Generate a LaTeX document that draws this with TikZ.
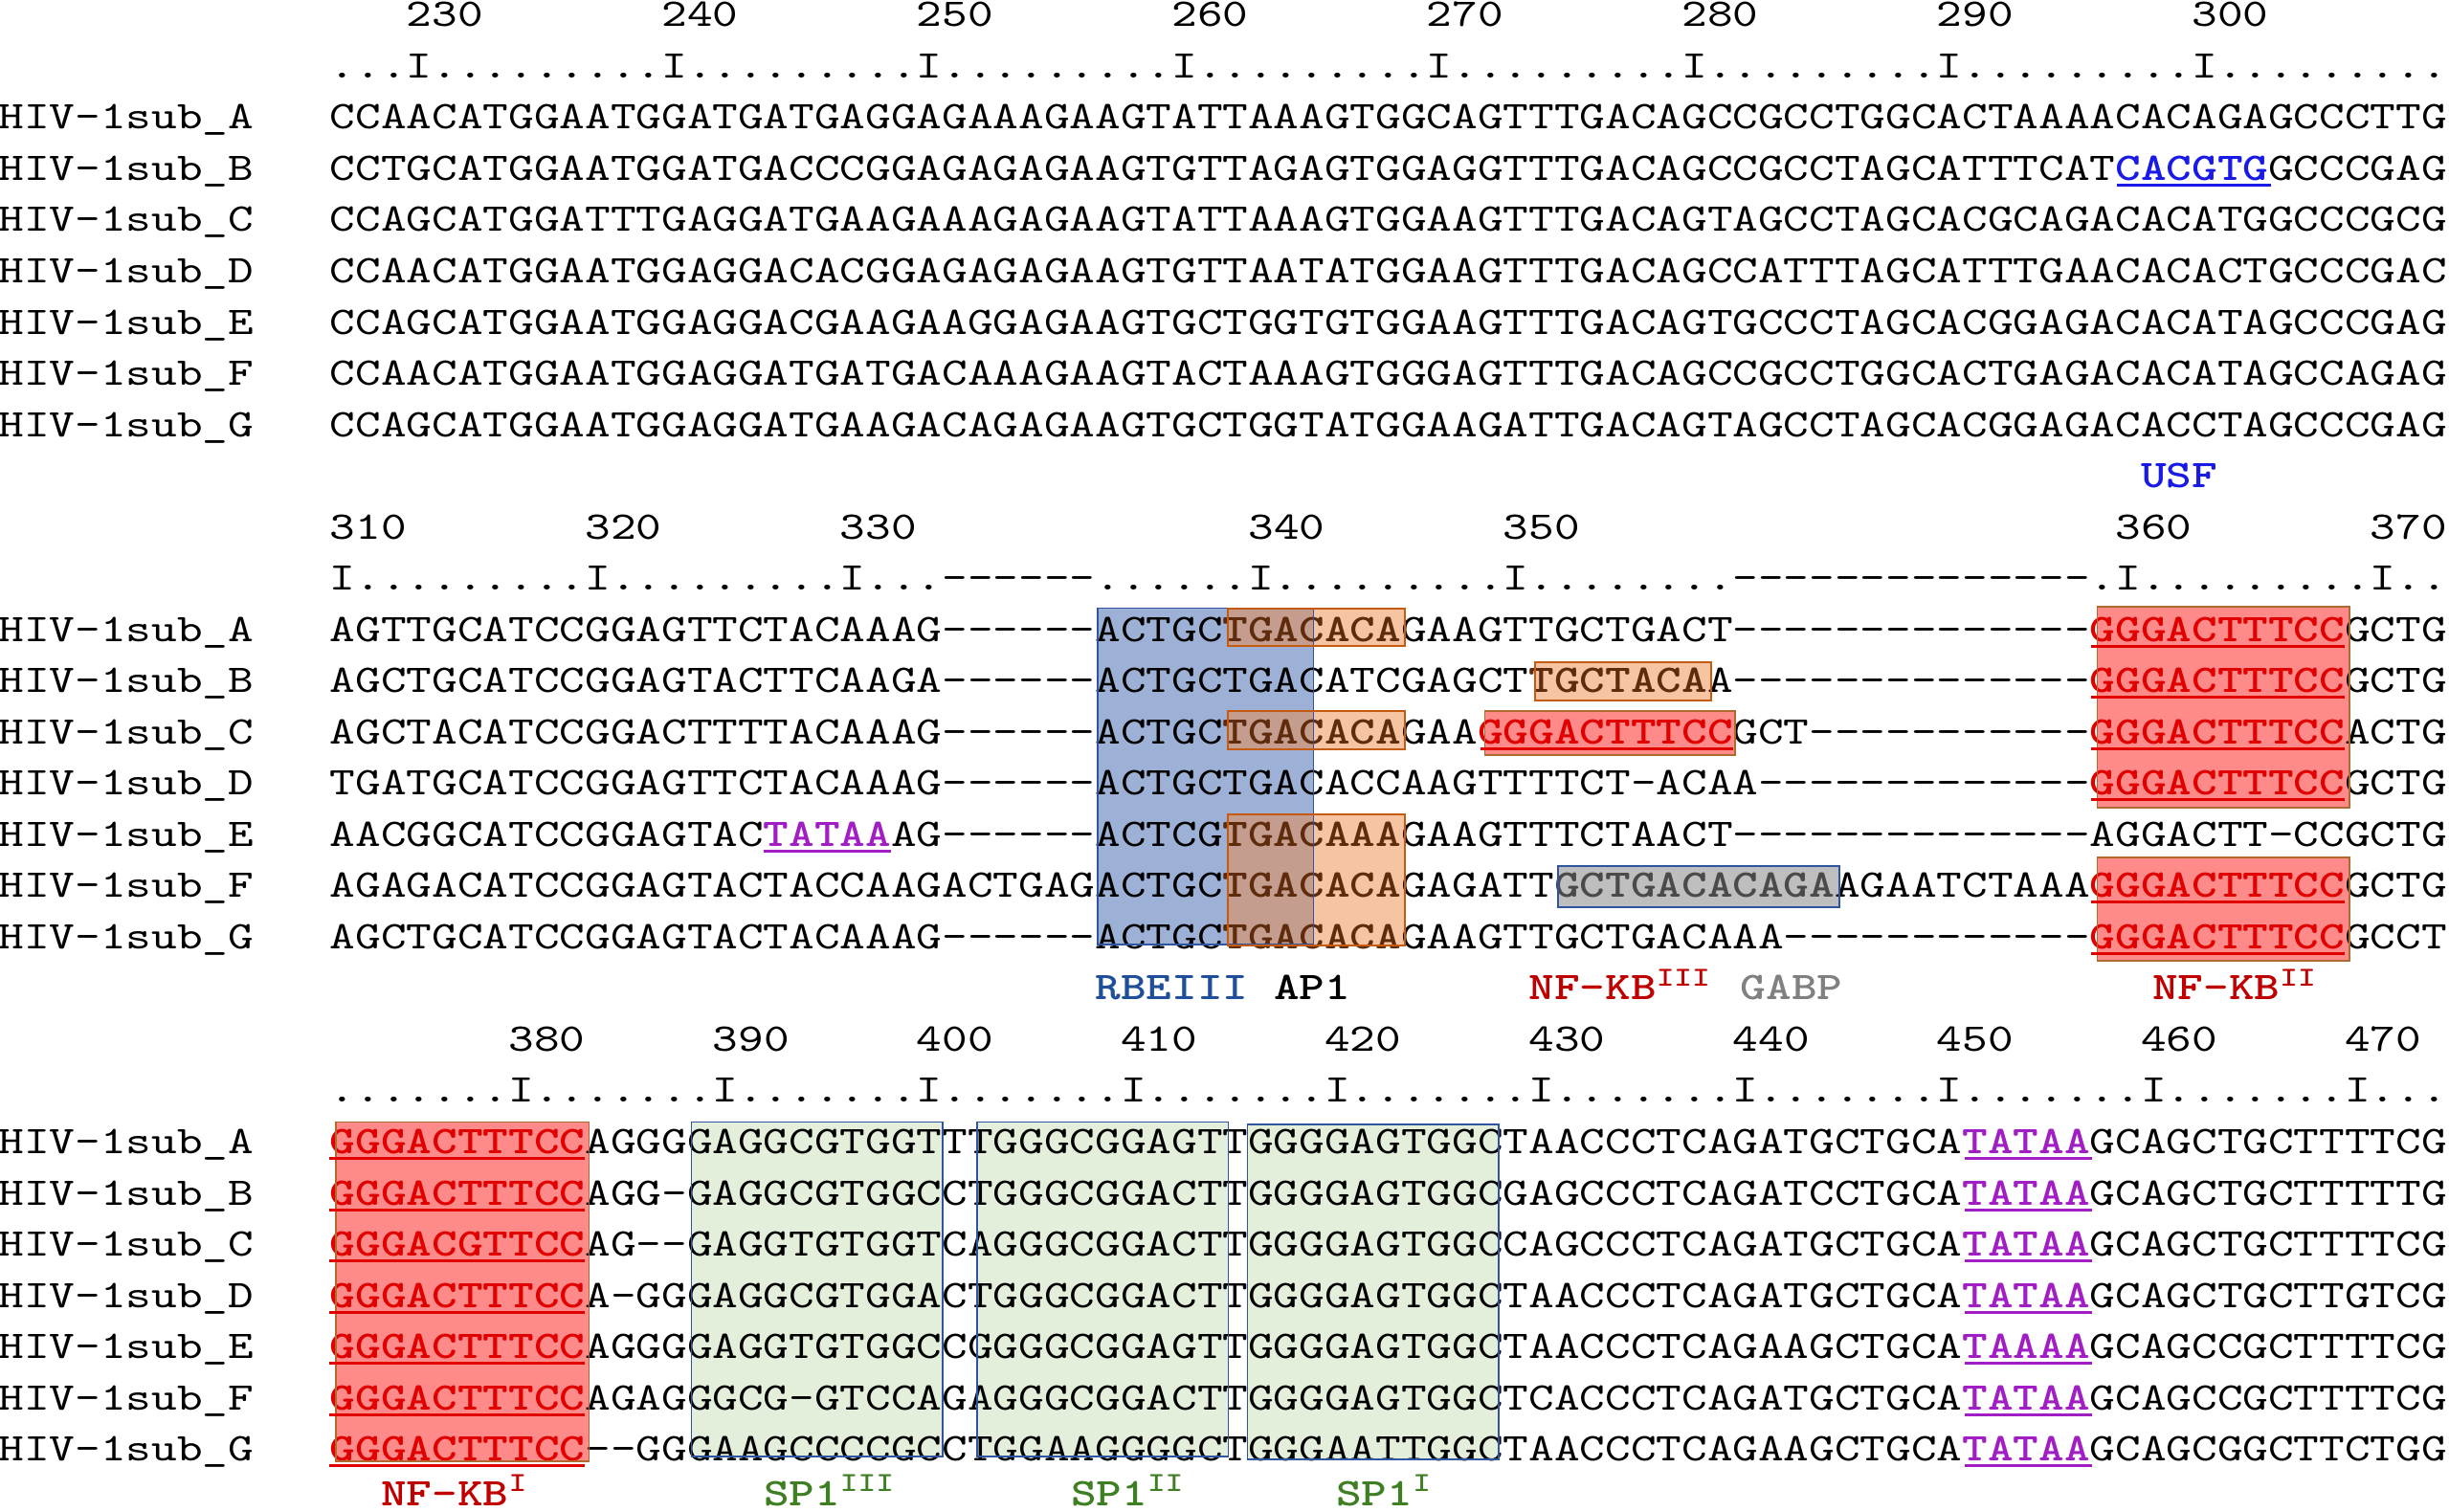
\documentclass[tikz,border=0pt]{standalone}
\usepackage{fontspec}
\setmonofont{lmmono10-regular}[Extension=.otf,BoldFont=lmmonolt10-bold,FakeStretch=1.24]
\definecolor{cUSF}{HTML}{1A1AE6}
\definecolor{cTATA}{HTML}{A11DC4}
\definecolor{cNF}{HTML}{E00000}
\definecolor{cNFlab}{HTML}{C00000}
\definecolor{cRBE}{HTML}{1F4E9A}
\definecolor{cSP}{HTML}{3F7F24}
\definecolor{cGABPlab}{HTML}{808080}
\definecolor{cGABPtxt}{HTML}{4A4A4A}
\definecolor{cAPtxt}{HTML}{5E2C0C}
\definecolor{fBlue}{HTML}{9DB1D6}
\definecolor{fOrange}{HTML}{EE8A48}
\definecolor{fRed}{HTML}{FF8A8A}
\definecolor{fGray}{HTML}{BEBEBE}
\definecolor{fGreen}{HTML}{E3EFDA}
\definecolor{bBlue}{HTML}{2F55A0}
\definecolor{bOrange}{HTML}{C55A11}
\definecolor{bRed}{HTML}{B06A30}
\newcommand\sqfont{\ttfamily\fontsize{10.234pt}{12pt}\selectfont}
\newcommand\SqNF[1]{{\bfseries\color{cNF}#1}}
\newcommand\SqTA[1]{{\bfseries\color{cTATA}#1}}
\newcommand\SqAP[1]{{\bfseries\color{cAPtxt}#1}}
\newcommand\SqGA[1]{{\bfseries\color{cGABPtxt}#1}}
\newcommand\SqUS[1]{{\bfseries\color{cUSF}#1}}
\tikzset{
  sq/.style={anchor=base west, inner sep=0pt, outer sep=0pt, font=\sqfont},
  sqlab/.style={sq, font=\sqfont\bfseries},
  fillblue/.style={fill=fBlue},
  fillorange/.style={fill=fOrange, fill opacity=0.5},
  fillred/.style={fill=fRed},
  fillgray/.style={fill=fGray},
  fillgreen/.style={fill=fGreen},
  edgeblue/.style={draw=bBlue, line width=0.4pt},
  edgeorange/.style={draw=bOrange, line width=0.5pt},
  edgered/.style={draw=bRed, line width=0.45pt},
  ulred/.style={draw=cNF, line width=0.75pt},
  ulpurple/.style={draw=cTATA, line width=0.75pt},
  ulblue/.style={draw=cUSF, line width=0.75pt}
}
\begin{document}
\begin{tikzpicture}[x=6.6625pt, y=-0.25pt]
\useasboundingbox (0.0563,0) rectangle (96.0788,1579);
\fill[white] (0.0563,0) rectangle (96.0788,1579);

% ---------- box fills (behind text) ----------
\fill[fillblue] (43.1,635.5) rectangle (51.55,987);
\fill[fillorange] (48.2,636) rectangle (55.15,675);
\fill[fillorange] (48.2,743) rectangle (55.15,782.5);
\fill[fillorange] (48.2,850.5) rectangle (55.15,988);
\fill[fillorange] (60.23,692) rectangle (67.14,732);
\fill[fillred] (58.27,743) rectangle (68.1,789);
\fill[fillgray] (61.14,905) rectangle (72.18,948);
\fill[fillred] (82.29,634) rectangle (92.18,844);
\fill[fillred] (82.29,896) rectangle (92.18,1004);
\fill[fillred] (13.24,1172.5) rectangle (23.15,1527);
\fill[fillgreen] (27.16,1172.5) rectangle (37.01,1522);
\fill[fillgreen] (38.37,1172.5) rectangle (48.21,1522);
\fill[fillgreen] (48.97,1175) rectangle (58.81,1525);

% ---------- row names ----------
\foreach \L [count=\i from 0] in {A,B,C,D,E,F,G} {
  \node[sq] (r1\L) at (0,{134.86+53.53*\i}) {HIV-1sub\_\L};
  \node[sq] (r2\L) at (0,{670.16+53.53*\i}) {HIV-1sub\_\L};
  \node[sq] (r3\L) at (0,{1205.46+53.53*\i}) {HIV-1sub\_\L};
}

% ---------- block 1 ----------
\foreach \n in {230,240,...,300} \node[sq] (n\n) at ({\n-214},27.8) {\n};
\node[sq] (ruler1) at (13,81.33) {...I.........I.........I.........I.........I.........I.........I.........I.........};
\node[sq] (s1A) at (13,134.86) {CCAACATGGAATGGATGATGAGGAGAAAGAAGTATTAAAGTGGCAGTTTGACAGCCGCCTGGCACTAAAACACAGAGCCCTTG};
\node[sq] (s1B) at (13,188.39) {CCTGCATGGAATGGATGACCCGGAGAGAGAAGTGTTAGAGTGGAGGTTTGACAGCCGCCTAGCATTTCAT\SqUS{CACGTG}GCCCGAG};
\node[sq] (s1C) at (13,241.92) {CCAGCATGGATTTGAGGATGAAGAAAGAGAAGTATTAAAGTGGAAGTTTGACAGTAGCCTAGCACGCAGACACATGGCCCGCG};
\node[sq] (s1D) at (13,295.45) {CCAACATGGAATGGAGGACACGGAGAGAGAAGTGTTAATATGGAAGTTTGACAGCCATTTAGCATTTGAACACACTGCCCGAC};
\node[sq] (s1E) at (13,348.98) {CCAGCATGGAATGGAGGACGAAGAAGGAGAAGTGCTGGTGTGGAAGTTTGACAGTGCCCTAGCACGGAGACACATAGCCCGAG};
\node[sq] (s1F) at (13,402.51) {CCAACATGGAATGGAGGATGATGACAAAGAAGTACTAAAGTGGGAGTTTGACAGCCGCCTGGCACTGAGACACATAGCCAGAG};
\node[sq] (s1G) at (13,456.04) {CCAGCATGGAATGGAGGATGAAGACAGAGAAGTGCTGGTATGGAAGATTGACAGTAGCCTAGCACGGAGACACCTAGCCCGAG};
\node[sqlab, text=cUSF] (lUSF) at (84.0,509.57) {USF};

% ---------- block 2 ----------
\foreach \n/\c in {310/13,320/23,330/33,340/49,350/59,360/83,370/93} \node[sq] (n\n) at (\c,563.1) {\n};
\node[sq] (ruler2) at (13,616.63) {I.........I.........I...------......I.........I........--------------.I.........I..};
\node[sq] (s2A) at (13,670.16) {AGTTGCATCCGGAGTTCTACAAAG------ACTGC\SqAP{TGACACA}GAAGTTGCTGACT--------------\SqNF{GGGACTTTCC}GCTG};
\node[sq] (s2B) at (13,723.69) {AGCTGCATCCGGAGTACTTCAAGA------ACTGCTGACATCGAGCT\SqAP{TGCTACA}A--------------\SqNF{GGGACTTTCC}GCTG};
\node[sq] (s2C) at (13,777.22) {AGCTACATCCGGACTTTTACAAAG------ACTGC\SqAP{TGACACA}GAA\SqNF{GGGACTTTCC}GCT-----------\SqNF{GGGACTTTCC}ACTG};
\node[sq] (s2D) at (13,830.75) {TGATGCATCCGGAGTTCTACAAAG------ACTGCTGACACCAAGTTTTCT-ACAA-------------\SqNF{GGGACTTTCC}GCTG};
\node[sq] (s2E) at (13,884.28) {AACGGCATCCGGAGTAC\SqTA{TATAA}AG------ACTCG\SqAP{TGACAAA}GAAGTTTCTAACT--------------AGGACTT-CCGCTG};
\node[sq] (s2F) at (13,937.81) {AGAGACATCCGGAGTACTACCAAGACTGAGACTGC\SqAP{TGACACA}GAGATT\SqGA{GCTGACACAGA}AGAATCTAAA\SqNF{GGGACTTTCC}GCTG};
\node[sq] (s2G) at (13,991.34) {AGCTGCATCCGGAGTACTACAAAG------ACTGC\SqAP{TGACACA}GAAGTTGCTGACAAA------------\SqNF{GGGACTTTCC}GCCT};
\node[sqlab, text=cRBE] (lRBE) at (43.0,1044.87) {RBEIII};
\node[sqlab, text=black] (lAP1) at (50.0,1044.87) {AP1};
\node[sqlab, text=cNFlab] (lNF3) at (60.0,1044.87) {NF-KB\textsuperscript{III}};
\node[sqlab, text=cGABPlab] (lGABP) at (68.3,1044.87) {GABP};
\node[sqlab, text=cNFlab] (lNF2) at (84.45,1044.87) {NF-KB\textsuperscript{II}};

% ---------- block 3 ----------
\foreach \n in {380,390,...,470} \node[sq] (n\n) at ({20+0.8*(\n-380)},1098.4) {\n};
\node[sq] (ruler3) at (13,1151.93) {.......I.......I.......I.......I.......I.......I.......I.......I.......I.......I...};
\node[sq] (s3A) at (13,1205.46) {\SqNF{GGGACTTTCC}AGGGGAGGCGTGGTTTGGGCGGAGTTGGGGAGTGGCTAACCCTCAGATGCTGCA\SqTA{TATAA}GCAGCTGCTTTTCG};
\node[sq] (s3B) at (13,1258.99) {\SqNF{GGGACTTTCC}AGG-GAGGCGTGGCCTGGGCGGACTTGGGGAGTGGCGAGCCCTCAGATCCTGCA\SqTA{TATAA}GCAGCTGCTTTTTG};
\node[sq] (s3C) at (13,1312.52) {\SqNF{GGGACGTTCC}AG--GAGGTGTGGTCAGGGCGGACTTGGGGAGTGGCCAGCCCTCAGATGCTGCA\SqTA{TATAA}GCAGCTGCTTTTCG};
\node[sq] (s3D) at (13,1366.05) {\SqNF{GGGACTTTCC}A-GGGAGGCGTGGACTGGGCGGACTTGGGGAGTGGCTAACCCTCAGATGCTGCA\SqTA{TATAA}GCAGCTGCTTGTCG};
\node[sq] (s3E) at (13,1419.58) {\SqNF{GGGACTTTCC}AGGGGAGGTGTGGCCGGGGCGGAGTTGGGGAGTGGCTAACCCTCAGAAGCTGCA\SqTA{TAAAA}GCAGCCGCTTTTCG};
\node[sq] (s3F) at (13,1473.11) {\SqNF{GGGACTTTCC}AGAGGGCG-GTCCAGAGGGCGGACTTGGGGAGTGGCTCACCCTCAGATGCTGCA\SqTA{TATAA}GCAGCCGCTTTTCG};
\node[sq] (s3G) at (13,1526.64) {\SqNF{GGGACTTTCC}--GGGAAGCCCCGCCTGGAAGGGGCTGGGAATTGGCTAACCCTCAGAAGCTGCA\SqTA{TATAA}GCAGCGGCTTCTGG};
\node[sqlab, text=cNFlab] (lNF1) at (15.0,1573) {NF-KB\textsuperscript{I}};
\node[sqlab, text=cSP] (lSP3) at (30.0,1573) {SP1\textsuperscript{III}};
\node[sqlab, text=cSP] (lSP2) at (42.05,1573) {SP1\textsuperscript{II}};
\node[sqlab, text=cSP] (lSP1) at (52.45,1573) {SP1\textsuperscript{I}};

% ---------- box edges ----------
\draw[edgeblue] (43.1,635.5) rectangle (51.55,987);
\draw[edgeorange] (48.2,636) rectangle (55.15,675);
\draw[edgeorange] (48.2,743) rectangle (55.15,782.5);
\draw[edgeorange] (48.2,850.5) rectangle (55.15,988);
\draw[edgeorange] (60.23,692) rectangle (67.14,732);
\draw[edgered] (58.27,743) rectangle (68.1,789);
\draw[edgeblue] (61.14,905) rectangle (72.18,948);
\draw[edgered] (82.29,634) rectangle (92.18,844);
\draw[edgered] (82.29,896) rectangle (92.18,1004);
\draw[edgered] (13.24,1172.5) rectangle (23.15,1527);
\draw[edgeblue] (27.16,1172.5) rectangle (37.01,1522);
\draw[edgeblue] (38.37,1172.5) rectangle (48.21,1522);
\draw[edgeblue] (48.97,1175) rectangle (58.81,1525);

% ---------- underlines ----------
\draw[ulblue] (83.07,193.4) -- (89.1,193.4);
\draw[ulpurple] (30.0,889.3) -- (35.0,889.3);
\draw[ulred] (58.1,782.2) -- (68.0,782.2);
\foreach \y in {675.16,728.69,782.22,835.75,942.81,996.34}
  \draw[ulred] (82.05,\y) -- (92.0,\y);
\foreach \y in {1210.46,1263.99,1317.52,1371.05,1424.58,1478.11,1531.64} {
  \draw[ulred] (12.98,\y) -- (23.0,\y);
  \draw[ulpurple] (77.1,\y) -- (82.1,\y);
}
\end{tikzpicture}
\end{document}
